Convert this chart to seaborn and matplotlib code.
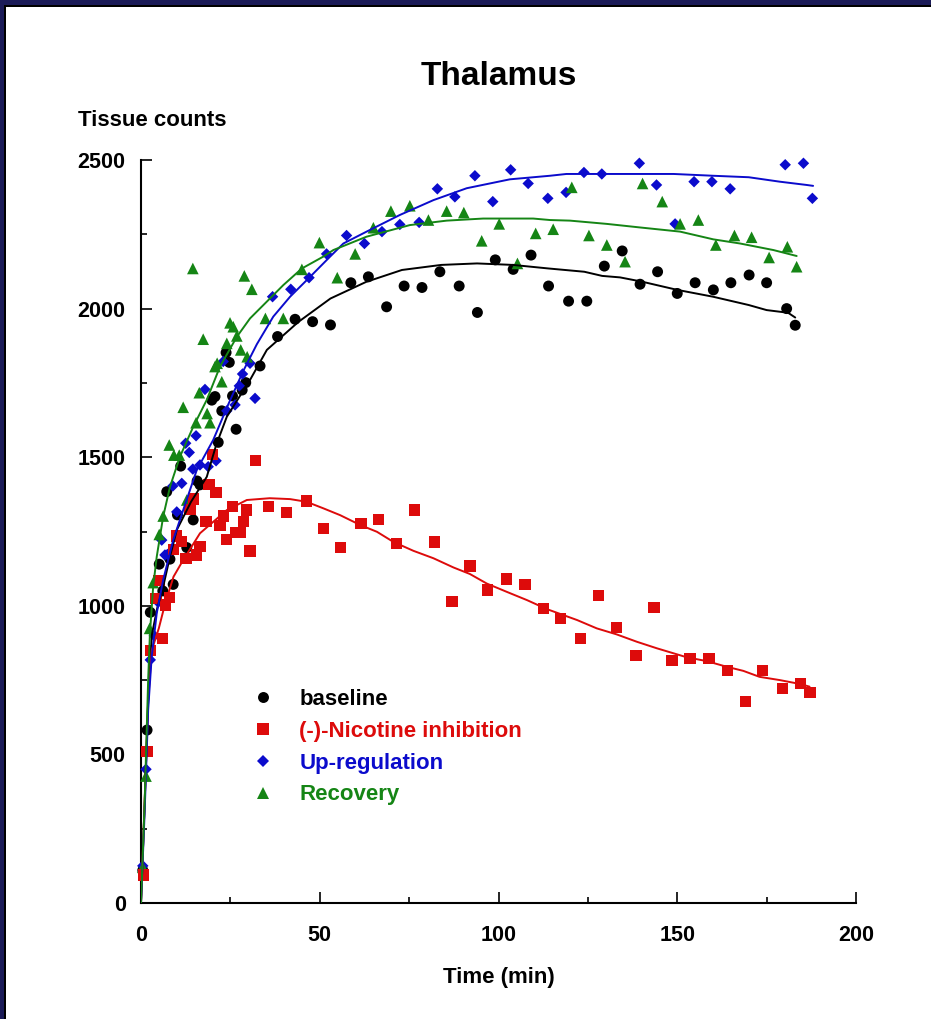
import numpy as np
import pandas as pd
import seaborn as sns
import matplotlib as mpl
mpl.use('Agg')
import matplotlib.pyplot as plt
from matplotlib.patches import Rectangle
from matplotlib.ticker import MultipleLocator

sns.set_theme(style='ticks')
plt.rcParams['font.family'] = ['Liberation Sans', 'DejaVu Sans']
plt.rcParams['font.weight'] = 'bold'
plt.rcParams['text.color'] = 'black'
plt.rcParams['axes.labelcolor'] = 'black'
plt.rcParams['xtick.color'] = 'black'
plt.rcParams['ytick.color'] = 'black'

# ---- data (time in min, tissue counts) ----
labels = ['baseline', '(-)-Nicotine inhibition', 'Up-regulation', 'Recovery']

base_t = [0.5, 1.7, 2.6, 5.1, 6.1, 7.2, 8.1, 9.0, 10.2, 11.1, 12.8, 14.6, 15.7, 16.5, 19.8,
          20.7, 21.6, 22.6, 23.8, 24.7, 25.6, 26.6, 28.3, 29.3, 33.3, 38.2, 43.1, 48.0, 53.0,
          58.7, 63.6, 68.7, 73.6, 78.6, 83.6, 89.0, 94.1, 99.1, 104.1, 109.1, 114.0, 119.6,
          124.7, 129.6, 134.6, 139.6, 144.5, 150.0, 155.0, 160.1, 165.0, 170.1, 175.0, 180.6, 183.0]
base_v = [110, 582, 978, 1140, 1050, 1384, 1157, 1072, 1306, 1470, 1196, 1289, 1420, 1407, 1692,
          1704, 1550, 1656, 1852, 1819, 1706, 1594, 1726, 1751, 1807, 1906, 1964, 1956, 1945,
          2087, 2107, 2006, 2076, 2071, 2124, 2076, 1987, 2164, 2132, 2180, 2076, 2025,
          2025, 2143, 2194, 2082, 2124, 2051, 2087, 2063, 2087, 2113, 2087, 2000, 1944]

nic_t = [0.6, 1.7, 2.6, 4.2, 5.0, 6.1, 6.8, 8.0, 9.0, 10.0, 11.4, 12.6, 13.7, 14.6, 15.6, 16.5,
         18.2, 19.0, 20.1, 21.0, 22.1, 23.0, 24.0, 25.6, 26.6, 27.7, 28.6, 29.6, 30.5, 32.1,
         35.6, 40.6, 46.2, 51.0, 55.9, 61.5, 66.5, 71.5, 76.6, 82.0, 87.0, 92.0, 97.0, 102.3,
         107.4, 112.5, 117.4, 123.0, 128.0, 133.1, 138.5, 143.5, 148.5, 153.6, 158.9, 164.0,
         169.0, 173.9, 179.5, 184.5, 187.1]
nic_v = [94, 509, 849, 1025, 1085, 890, 1003, 1028, 1190, 1235, 1216, 1160, 1324, 1359, 1171, 1199,
         1283, 1409, 1510, 1382, 1269, 1302, 1222, 1333, 1246, 1246, 1283, 1322, 1184, 1488,
         1333, 1314, 1353, 1260, 1197, 1277, 1291, 1210, 1322, 1215, 1014, 1134, 1053, 1090,
         1072, 990, 958, 890, 1035, 927, 833, 995, 816, 823, 823, 783,
         678, 783, 722, 739, 709]

up_t = [0.5, 1.4, 2.6, 3.7, 4.8, 5.8, 6.7, 7.4, 8.9, 10.0, 11.4, 12.5, 13.5, 14.5, 15.4, 16.5,
        17.9, 18.8, 21.0, 23.0, 24.0, 26.3, 27.5, 28.4, 30.5, 31.9, 36.8, 41.9, 47.0, 51.9,
        57.5, 62.5, 67.4, 72.4, 77.8, 82.9, 87.8, 93.4, 98.4, 103.4, 108.3, 113.8, 118.9,
        123.9, 128.9, 139.4, 144.2, 149.4, 154.7, 159.7, 164.8, 180.2, 185.3, 187.8]
up_v = [125, 450, 818, 899, 1012, 1221, 1171, 1173, 1403, 1316, 1412, 1547, 1516, 1460, 1572, 1474,
        1728, 1468, 1488, 1822, 1656, 1676, 1740, 1780, 1816, 1698, 2040, 2065, 2104, 2184,
        2246, 2219, 2259, 2283, 2290, 2403, 2376, 2447, 2360, 2467, 2421, 2371, 2391,
        2458, 2453, 2489, 2416, 2285, 2427, 2427, 2403, 2484, 2489, 2371]

rec_t = [0.5, 1.4, 2.4, 3.4, 5.1, 6.2, 7.9, 9.2, 10.7, 11.8, 12.8, 14.5, 15.4, 16.3, 17.4, 18.5,
         19.3, 20.7, 21.3, 22.6, 24.0, 24.9, 25.8, 26.8, 27.9, 28.9, 29.7, 31.0, 34.8, 39.8,
         45.0, 49.9, 54.9, 59.9, 65.0, 69.9, 75.2, 80.4, 85.5, 90.3, 95.3, 100.2, 105.3, 110.4,
         115.3, 120.5, 125.3, 130.3, 135.4, 140.3, 145.8, 150.8, 155.9, 160.8, 166.0, 170.8,
         175.7, 180.8, 183.4]
rec_v = [120, 427, 924, 1078, 1240, 1302, 1541, 1507, 1507, 1668, 1356, 2135, 1616, 1717, 1897, 1647,
         1616, 1805, 1816, 1754, 1883, 1952, 1939, 1908, 1861, 2110, 1838, 2065, 1967, 1967,
         2132, 2222, 2104, 2184, 2272, 2328, 2346, 2298, 2328, 2323, 2228, 2285, 2152, 2253,
         2267, 2408, 2246, 2214, 2158, 2421, 2360, 2285, 2298, 2214, 2246, 2240,
         2172, 2208, 2141]

# smooth fitted curves
base_fit_t = [0, 1, 2, 3, 4.5, 6.2, 8, 10, 14, 18.4, 21, 24, 30.5, 35.2, 44, 53, 63, 73, 84, 94,
              104, 114, 124, 129, 134, 140, 150, 160, 170, 175, 181, 183]
base_fit_v = [0, 330, 680, 900, 990, 1064, 1160, 1255, 1350, 1434, 1540, 1636, 1760, 1861, 1955,
              2034, 2090, 2130, 2147, 2152, 2147, 2135, 2124, 2110, 2105, 2091, 2063, 2040, 2012,
              1995, 1986, 1970]

nic_fit_t = [0, 1, 2, 3, 5, 6.8, 9.1, 11.8, 16.5, 24, 29.6, 36, 41.7, 46.3, 51, 55.7, 61.3, 66,
             70.6, 76.2, 81.8, 87.4, 92, 96.7, 102.3, 108, 113.5, 122, 127.5, 133, 138.7, 144.3,
             152.6, 158.2, 163.8, 168.5, 173, 178.7, 184.3, 187]
nic_fit_v = [0, 330, 680, 850, 925, 1010, 1098, 1154, 1244, 1322, 1356, 1362, 1359, 1350, 1328,
             1305, 1272, 1249, 1215, 1185, 1160, 1129, 1107, 1075, 1047, 1019, 989, 952, 924, 904,
             879, 857, 827, 814, 795, 781, 761, 750, 737, 728]

up_fit_t = [0, 1, 2, 3, 4.4, 6.2, 9, 11.8, 15.6, 20.2, 24.5, 28.6, 32.4, 37, 41.7, 47.3, 52.9,
            56.6, 63.1, 72.4, 81.8, 91.1, 103.2, 114.4, 119, 149, 160, 170, 178.7, 186.2, 188]
up_fit_v = [0, 300, 650, 830, 975, 1087, 1221, 1322, 1457, 1558, 1680, 1790, 1880, 1973, 2040,
            2107, 2175, 2219, 2259, 2315, 2365, 2405, 2435, 2447, 2453, 2453, 2447, 2442, 2427,
            2416, 2413]

rec_fit_t = [0, 1, 2, 2.5, 3.4, 4.4, 6.2, 8.1, 10.9, 14.6, 18.4, 22.1, 26.8, 30.5, 39.8, 45, 51,
             53.8, 63.1, 75.2, 85.5, 95.7, 109.7, 114.4, 120, 130.3, 139.6, 150.8, 160.1, 167.6,
             176.9, 183.4]
rec_fit_v = [0, 330, 750, 907, 1064, 1165, 1300, 1400, 1502, 1602, 1693, 1805, 1905, 1967, 2079,
             2135, 2175, 2197, 2242, 2281, 2296, 2303, 2303, 2298, 2296, 2285, 2273, 2259, 2233,
             2219, 2197, 2177]

colors = {labels[0]: '#000000', labels[1]: '#dd0b0b', labels[2]: '#0b0bcc', labels[3]: '#158515'}
markers = {labels[0]: 'o', labels[1]: 's', labels[2]: 'D', labels[3]: '^'}
msizes = {labels[0]: 62, labels[1]: 66, labels[2]: 34, labels[3]: 70}

# long tables for seaborn
def frame(t, v, name):
    return pd.DataFrame({'Time': t, 'Counts': v, 'cond': name})

pts = pd.concat([frame(base_t, base_v, labels[0]),
                 frame(up_t, up_v, labels[2]),
                 frame(rec_t, rec_v, labels[3]),
                 frame(nic_t, nic_v, labels[1])], ignore_index=True)
fits = pd.concat([frame(base_fit_t, base_fit_v, labels[0]),
                  frame(nic_fit_t, nic_fit_v, labels[1]),
                  frame(up_fit_t, up_fit_v, labels[2]),
                  frame(rec_fit_t, rec_fit_v, labels[3])], ignore_index=True)

fig = plt.figure(figsize=(9.31, 10.19), dpi=100)
fig.patch.set_facecolor('white')
ax = fig.add_axes([141 / 931, 1 - 903 / 1019, 715 / 931, 743 / 1019])
ax.set_facecolor('white')

sns.scatterplot(data=pts, x='Time', y='Counts', hue='cond', style='cond', size='cond',
                hue_order=labels, style_order=labels, size_order=labels,
                palette=colors, markers=markers, sizes=msizes,
                edgecolor='none', linewidth=0, clip_on=False, zorder=3, ax=ax)
sns.lineplot(data=fits, x='Time', y='Counts', hue='cond', hue_order=labels, palette=colors,
             sort=False, estimator=None, lw=1.4, legend=False, zorder=4, ax=ax)

ax.set_xlim(0, 200)
ax.set_ylim(0, 2500)
ax.xaxis.set_major_locator(MultipleLocator(50))
ax.xaxis.set_minor_locator(MultipleLocator(25))
ax.yaxis.set_major_locator(MultipleLocator(500))
ax.yaxis.set_minor_locator(MultipleLocator(250))
for side in ['top', 'right']:
    ax.spines[side].set_visible(False)
for side in ['left', 'bottom']:
    ax.spines[side].set_linewidth(1.5)
    ax.spines[side].set_color('black')
ax.tick_params(which='major', direction='in', length=8, width=1.2, labelsize=15.5, colors='black')
ax.tick_params(which='minor', direction='in', length=4, width=1.2)
ax.tick_params(axis='y', which='major', pad=11)
ax.tick_params(axis='x', which='major', pad=16)
for lab in ax.get_xticklabels() + ax.get_yticklabels():
    lab.set_fontweight('bold')

ax.set_xlabel('Time (min)', fontsize=16, fontweight='bold', labelpad=15)
ax.set_ylabel('')
ax.set_title('Thalamus', fontsize=24, fontweight='bold', pad=54)
fig.text(78 / 931, 1 - 121 / 1019, 'Tissue counts', fontsize=16, fontweight='bold',
         ha='left', va='center')

# legend with coloured text
handles, labs = ax.get_legend_handles_labels()
ax.get_legend().remove()
keep = [(h, l) for h, l in zip(handles, labs) if l in labels]
leg = ax.legend([h for h, l in keep], [l for h, l in keep], loc='upper left',
                bbox_to_anchor=(0.142, 0.300), frameon=False, fontsize=16,
                handlelength=1.0, handletextpad=1.15, labelspacing=0.485, borderaxespad=0)
for txt in leg.get_texts():
    txt.set_color(colors[txt.get_text()])
    txt.set_fontweight('bold')

# dark frame on top and left edges
navy = '#1b1b58'
fig.patches.append(Rectangle((0, 1 - 5 / 1019), 1, 5 / 1019, transform=fig.transFigure,
                             facecolor=navy, edgecolor='none', zorder=10))
fig.patches.append(Rectangle((0, 1 - 7 / 1019), 1, 2 / 1019, transform=fig.transFigure,
                             facecolor='black', edgecolor='none', zorder=10))
fig.patches.append(Rectangle((0, 0), 4 / 931, 1, transform=fig.transFigure,
                             facecolor=navy, edgecolor='none', zorder=10))
fig.patches.append(Rectangle((4 / 931, 0), 2 / 931, 1 - 5 / 1019, transform=fig.transFigure,
                             facecolor='black', edgecolor='none', zorder=10))

fig.savefig('out.png', dpi=100)
